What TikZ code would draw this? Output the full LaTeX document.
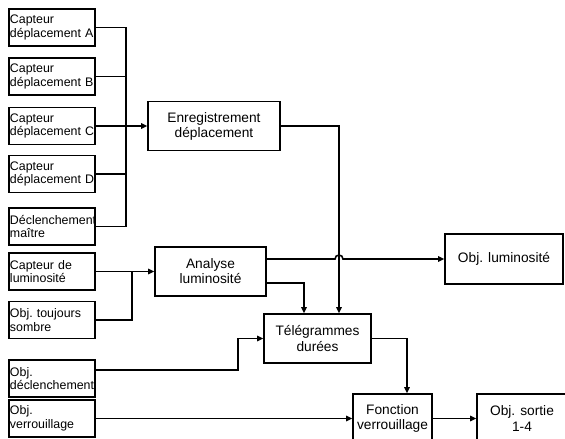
\documentclass[tikz,border=0pt]{standalone}
\usepackage{fontspec}
\setmainfont{Liberation Sans}
\usetikzlibrary{arrows.meta,calc}
\newdimen\upx \upx=0.75pt

\begin{document}
\begin{tikzpicture}[x=\upx, y=-\upx, line width=1.2pt,
	>={Triangle[length=4.5pt,width=4pt]},
	srcbox/.style={draw, rectangle, text width=63pt, inner xsep=0.75pt, inner ysep=0pt,
		minimum height=27.75pt, align=left, font=\fontsize{9.3}{10.2}\selectfont},
	blockbox/.style={draw, rectangle, inner sep=0pt, minimum height=36.75pt,
		align=center, font=\fontsize{10.3}{11.3}\selectfont}]
	\useasboundingbox (0,0) rectangle (565,439);
	\clip (0,0) rectangle (565,439);

	% inputs on the left
	\node[srcbox] (capA) at (52,27.5) {Capteur\\d\'eplacement~A};
	\node[srcbox] (capB) at (52,76.5) {Capteur\\d\'eplacement~B};
	\node[srcbox] (capC) at (52,126) {Capteur\\d\'eplacement~C};
	\node[srcbox] (capD) at (52,174) {Capteur\\d\'eplacement~D};
	\node[srcbox] (maitre) at (52,226.5) {\mbox{D\'eclenchement}\\ma\^itre};
	\node[srcbox] (caplum) at (52,271.5) {Capteur~de\\luminosit\'e};
	\node[srcbox] (sombre) at (52,320) {Obj.~toujours\\sombre};
	\node[srcbox] (objdecl) at (52,378.5) {Obj.\\\mbox{d\'eclenchement}};
	\node[srcbox] (objverr) at (52,418.5) {Obj.\\verrouillage};

	% function blocks
	\node[blockbox, minimum width=99pt] (enreg) at (214,126) {Enregistrement\\d\'eplacement};
	\node[blockbox, minimum width=83.25pt] (analyse) at (210.5,271.5) {Analyse\\luminosit\'e};
	\node[blockbox, minimum width=80.25pt] (teleg) at (317.5,338.5) {T\'el\'egrammes\\dur\'ees};
	\node[blockbox, minimum width=88.5pt, minimum height=37.5pt] (objlum) at (504,259) {Obj. luminosit\'e};
	\node[blockbox, minimum width=59.25pt] (fonction) at (392.5,418.5) {Fonction\\verrouillage};
	\node[blockbox, minimum width=67.5pt] (sortie) at (522,418.5) {Obj. sortie\\1-4};

	\coordinate (bus) at (126,126);
	\coordinate (join) at (132,271.5);
	\coordinate (hop) at (335,259);

	\draw (capA.east) -| (bus);
	\draw (capB.east) -| (bus);
	\draw (capD.east) -| (bus);
	\draw (maitre.east) -| (bus);
	\draw[->] (capC.east) -- (enreg.west);

	\draw[->] (caplum.east) -- (analyse.west);
	\draw (sombre.east) -| (join);

	\draw[->] (enreg.east) -| ($(teleg.north)+(21.5,0)$);
	\draw[->] ($(analyse.east)+(0,-12.5)$) -- (hop) arc (180:360:4) -- (objlum.west);
	\draw[->] ($(analyse.east)+(0,11.5)$) -| ($(teleg.north)+(-13.5,0)$);
	\draw[->] ($(objdecl.east)+(0,-8.5)$) -- ++(142,0) |- (teleg.west);

	\draw[->] (teleg.east) -| ($(fonction.north)+(14.5,0)$);
	\draw[->] (objverr.east) -- (fonction.west);
	\draw[->] (fonction.east) -- (sortie.west);
\end{tikzpicture}
\end{document}
